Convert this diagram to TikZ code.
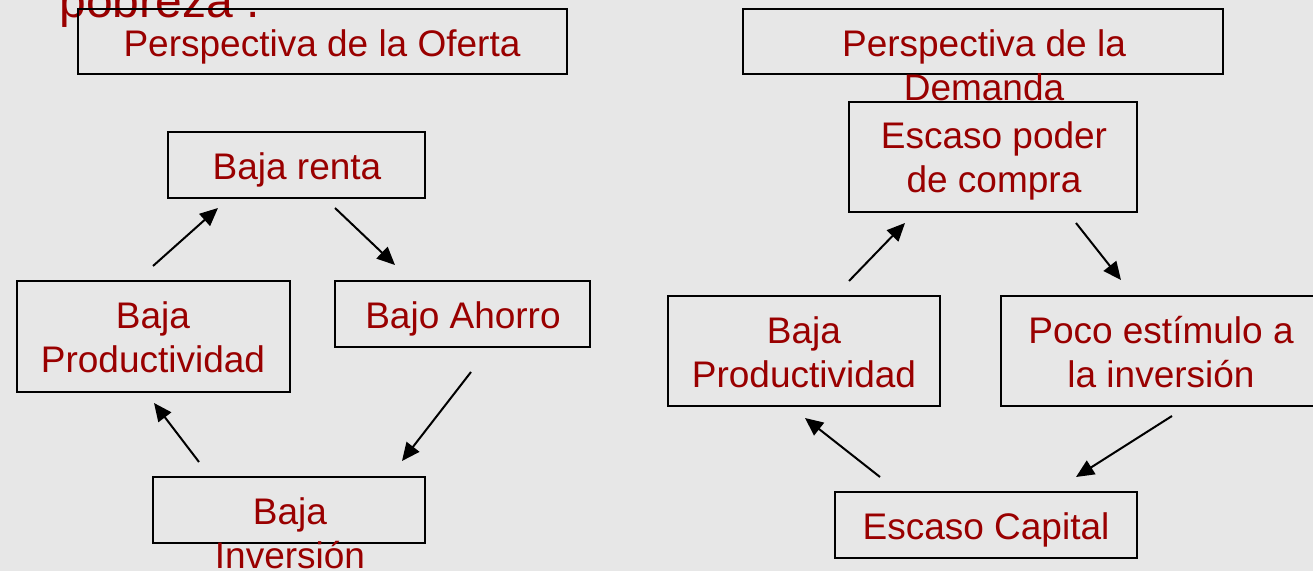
\documentclass[tikz,border=0pt]{standalone}
\usepackage{fontspec}
\setmainfont{Liberation Sans}
\usetikzlibrary{arrows.meta}

\definecolor{rojo}{RGB}{153,0,0}
\definecolor{fondo}{RGB}{231,231,231}

\tikzset{
    caja/.style 2 args={draw=black, line width=1pt, minimum width=#1*0.5pt, minimum height=#2*0.5pt, inner sep=0pt},
    texto/.style={text=rojo, font=\fontsize{18.5}{22}\selectfont, align=center, inner sep=0pt, anchor=base},
    flecha/.style={draw, line width=1pt, -{Triangle[length=9pt,width=8pt]}}
}

\begin{document}
\begin{tikzpicture}[x=0.5pt,y=-0.5pt]
            \fill[fondo] (0,0) rectangle (1313,571);
            \useasboundingbox (0,0) rectangle (1313,571);

            \node[texto, font=\fontsize{24}{28}\selectfont, anchor=base west] (pobreza) at (59,18) {pobreza .};

            % cajas
            \begin{scope}
                \node[caja={489}{65}] (oferta) at (322.5,41.5) {};
                \node[caja={257}{66}] (renta) at (296.5,165) {};
                \node[caja={273}{111}] (prodL) at (153.5,336.5) {};
                \node[caja={255}{66}] (ahorro) at (462.5,314) {};
                \node[caja={272}{66}] (inversion) at (289,510) {};

                \node[caja={480}{65}] (demanda) at (983,41.5) {};
                \node[caja={288}{110}] (poder) at (993,157) {};
                \node[caja={272}{110}] (prodR) at (804,351) {};
                \node[caja={320}{110}] (estimulo) at (1161,351) {};
                \node[caja={302}{66}] (capital) at (986,525) {};
            \end{scope}

            % textos (base = ultima linea)
            \begin{scope}
                \node[texto] (oferta-t) at (322,57) {Perspectiva de la Oferta};
                \node[texto] (renta-t) at (297,180) {Baja renta};
                \node[texto] (prodL-t) at (153,373) {Baja\\Productividad};
                \node[texto] (ahorro-t) at (463,329) {Bajo Ahorro};
                \node[texto] (inversion-t) at (290,569) {Baja\\Inversión};

                \node[texto] (demanda-t) at (984,101) {Perspectiva de la\\Demanda};
                \node[texto] (poder-t) at (994,193) {Escaso poder\\de compra};
                \node[texto] (prodR-t) at (804,388) {Baja\\Productividad};
                \node[texto] (estimulo-t) at (1161,388) {Poco estímulo a\\la inversión};
                \node[texto] (capital-t) at (986,540) {Escaso Capital};
            \end{scope}

            % extremos de las flechas
            \coordinate (a1) at (153,266);  \coordinate (a2) at (218,208);
            \coordinate (a3) at (335,208);  \coordinate (a4) at (395,265);
            \coordinate (a5) at (471,372);  \coordinate (a6) at (402,461);
            \coordinate (a7) at (199,462);  \coordinate (a8) at (154,403);

            \coordinate (b1) at (849,281);  \coordinate (b2) at (905,223);
            \coordinate (b3) at (1076,223); \coordinate (b4) at (1121,280);
            \coordinate (b5) at (1172,416); \coordinate (b6) at (1076,477);
            \coordinate (b7) at (880,477);  \coordinate (b8) at (805,418);

            \begin{scope}[every edge/.style={flecha}]
                \path (a1) edge (a2);
                \path (a3) edge (a4);
                \path (a5) edge (a6);
                \path (a7) edge (a8);

                \path (b1) edge (b2);
                \path (b3) edge (b4);
                \path (b5) edge (b6);
                \path (b7) edge (b8);
            \end{scope}
        \end{tikzpicture}
\end{document}
